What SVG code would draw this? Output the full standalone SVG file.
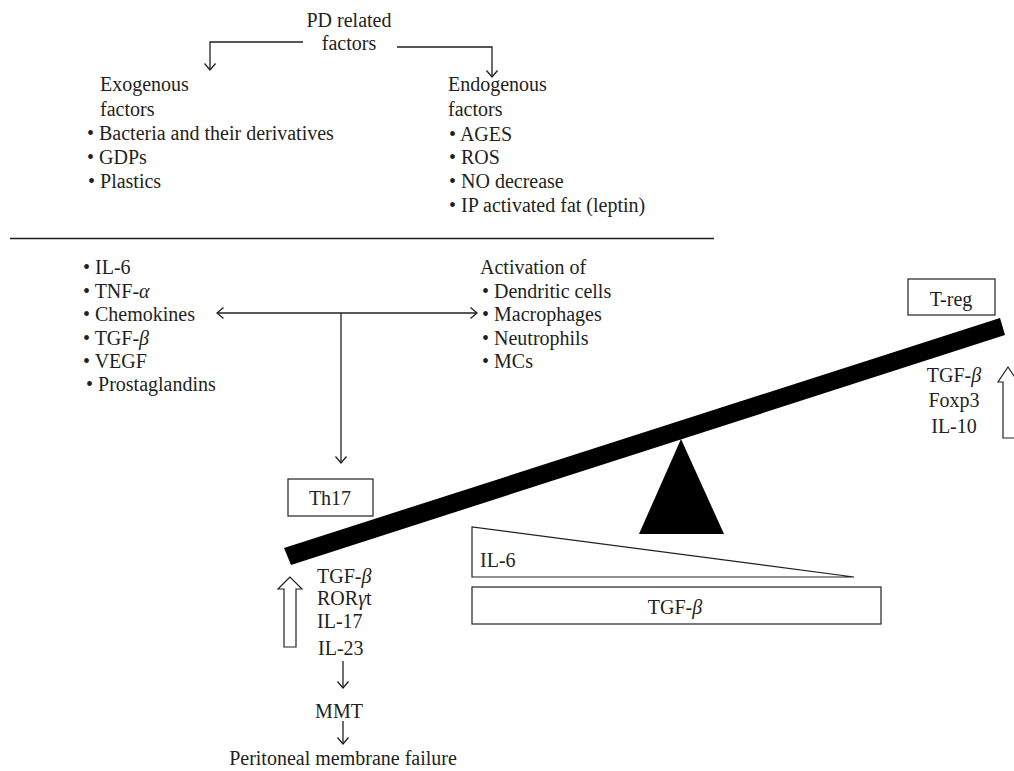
<svg xmlns="http://www.w3.org/2000/svg" width="1014" height="771" viewBox="0 0 1014 771">
<style>
text{font-family:"Liberation Serif","Times New Roman",serif;font-size:20px;fill:#231f20}
.c{text-anchor:middle}
.i{font-style:italic}
.ln{fill:none;stroke:#231f20;stroke-width:1.3}
.box{fill:#fff;stroke:#231f20;stroke-width:1.2}
.hollow{fill:#fff;stroke:#231f20;stroke-width:1.2;stroke-linejoin:miter}
</style>
<defs>
<marker id="ah" viewBox="-8 -6 9 12" markerWidth="9" markerHeight="12" refX="0" refY="0" orient="auto-start-reverse" markerUnits="userSpaceOnUse">
<path d="M-6.5,-5.5 L0,0 L-6.5,5.5" fill="none" stroke="#231f20" stroke-width="1.3"/>
</marker>
</defs>
<rect width="1014" height="771" fill="#fff"/>

<g id="pd-factors">
<text class="c" x="349" y="27">PD related</text>
<text class="c" x="349" y="50">factors</text>
</g>

<g id="exogenous">
<text x="100" y="91">Exogenous</text>
<text x="100" y="116">factors</text>
<text x="87" y="140">• Bacteria and their derivatives</text>
<text x="87" y="164">• GDPs</text>
<text x="88" y="188">• Plastics</text>
</g>

<g id="endogenous">
<text x="448" y="91">Endogenous</text>
<text x="448" y="116">factors</text>
<text x="449" y="141">• AGES</text>
<text x="449" y="164">• ROS</text>
<text x="449" y="188">• NO decrease</text>
<text x="449" y="212">• IP activated fat (leptin)</text>
</g>

<line x1="10" y1="238.5" x2="714" y2="238.5" stroke="#231f20" stroke-width="1.6"/>

<g id="cytokines">
<text x="83" y="274">• IL-6</text>
<text x="83" y="297.5">• TNF-<tspan class="i">α</tspan></text>
<text x="83" y="321">• Chemokines</text>
<text x="83" y="344.5">• TGF-<tspan class="i">β</tspan></text>
<text x="83" y="368">• VEGF</text>
<text x="86" y="391">• Prostaglandins</text>
</g>

<g id="activation">
<text x="480" y="274">Activation of</text>
<text x="482" y="297.5">• Dendritic cells</text>
<text x="482" y="321">• Macrophages</text>
<text x="482" y="344.5">• Neutrophils</text>
<text x="482" y="368">• MCs</text>
</g>

<g id="treg">
<rect class="box" x="908" y="279" width="87" height="36"/>
<text class="c" x="951" y="306">T-reg</text>
</g>

<g id="treg-markers">
<text class="c" x="954" y="382">TGF-<tspan class="i">β</tspan></text>
<text class="c" x="954" y="407">Foxp3</text>
<text class="c" x="954" y="433">IL-10</text>
<path class="hollow" d="M1008,367 L998,382 L1003,382 L1003,438 L1016,438 L1016,382 L1018,382 Z"/>
</g>

<g id="th17">
<rect class="box" x="288" y="479" width="85" height="37"/>
<text class="c" x="330" y="505">Th17</text>
</g>

<g id="seesaw">
<polygon points="284,548 1000,318 1005,335 291,565" fill="#000"/>
<polygon points="681,439 639,534 724,534" fill="#000"/>
</g>

<g id="il6-wedge">
<polygon points="472,527 472,577 854,577" fill="#fff" stroke="#231f20" stroke-width="1.2"/>
<text x="480" y="567">IL-6</text>
</g>

<g id="tgfb-bar">
<rect class="box" x="472" y="587" width="409" height="37"/>
<text class="c" x="675" y="614">TGF-<tspan class="i">β</tspan></text>
</g>

<g id="th17-markers">
<text x="317" y="583">TGF-<tspan class="i">β</tspan></text>
<text x="317" y="605">ROR<tspan class="i">γ</tspan>t</text>
<text x="317" y="628">IL-17</text>
<text x="318" y="655">IL-23</text>
<path class="hollow" d="M290,577 L278,589 L284,589 L284,647 L296,647 L296,589 L302,589 Z"/>
</g>

<g id="mmt">
<text class="c" x="339" y="718">MMT</text>
</g>

<g id="failure">
<text class="c" x="343" y="765">Peritoneal membrane failure</text>
</g>

<g id="connectors">
<path class="ln" d="M303,42 H210 V70" marker-end="url(#ah)"/>
<path class="ln" d="M397,47 H492 V77" marker-end="url(#ah)"/>
<line class="ln" x1="217" y1="313" x2="477" y2="313" marker-start="url(#ah)" marker-end="url(#ah)"/>
<line class="ln" x1="341" y1="313" x2="341" y2="463" marker-end="url(#ah)"/>
<line class="ln" x1="343" y1="661" x2="343" y2="688" marker-end="url(#ah)"/>
<line class="ln" x1="343" y1="721" x2="343" y2="744" marker-end="url(#ah)"/>
</g>
</svg>
